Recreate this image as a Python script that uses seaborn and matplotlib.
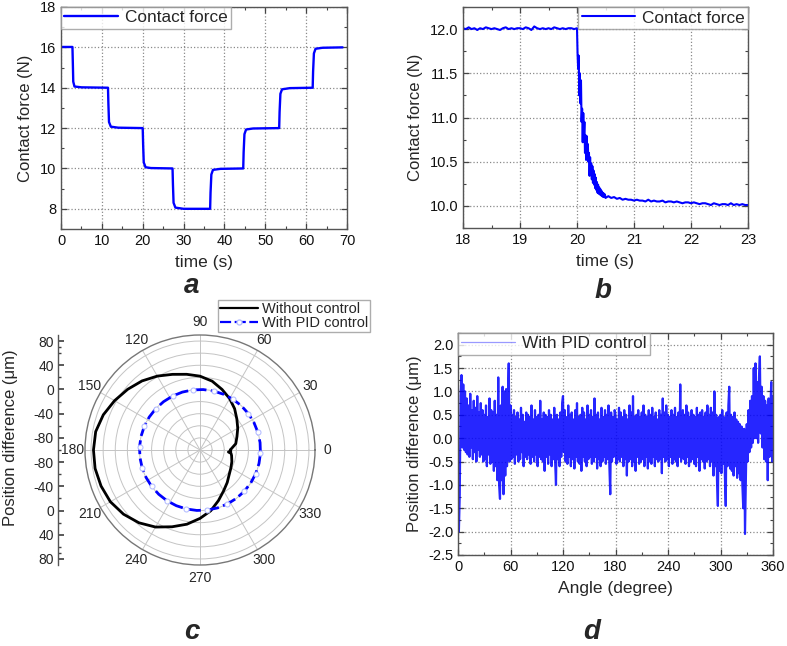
import numpy as np
import matplotlib
matplotlib.use('Agg')
import matplotlib.pyplot as plt
from matplotlib.ticker import MultipleLocator, FormatStrFormatter
from matplotlib.lines import Line2D
import seaborn as sns

# ---- panel a : step response of the contact force
a_time = [0, 2.8, 2.9, 3.0, 3.3, 5.0, 11.5, 11.6, 11.75, 12.2, 14.0,
          20.0, 20.1, 20.25, 20.7, 22.0, 27.3, 27.4, 27.55, 28.0, 30.0,
          36.5, 36.6, 36.8, 37.2, 39.0, 44.6, 44.7, 44.9, 45.3, 47.0,
          53.4, 53.5, 53.7, 54.1, 56.0, 61.6, 61.7, 61.9, 62.3, 64.0, 68.9]
a_force = [16.02, 16.02, 15.2, 14.3, 14.06, 14.02, 14.0, 13.2, 12.3, 12.07, 12.02,
           12.0, 11.2, 10.3, 10.06, 10.02, 10.0, 9.2, 8.3, 8.06, 8.0,
           8.0, 8.8, 9.7, 9.93, 9.98, 10.0, 10.8, 11.7, 11.93, 11.98,
           12.0, 12.8, 13.7, 13.92, 13.98, 14.0, 14.8, 15.7, 15.93, 15.98, 16.0]

# ---- panel b : zoom on the 12 N -> 10 N step (three sampling segments)
b_pre_start, b_pre_step = 18.0, 0.05
b_pre = [12.01, 12.00, 12.02, 12.00, 12.01, 11.99, 12.01, 12.00, 12.02, 12.01,
         12.00, 12.01, 12.00, 11.99, 12.01, 12.02, 12.00, 12.01, 12.00, 12.01,
         12.01, 12.00, 12.02, 12.01, 11.99, 12.03, 12.01, 12.00, 12.01, 12.00,
         12.01, 12.00, 12.02, 12.01, 12.00, 12.01, 12.00, 12.01, 12.01, 12.00, 12.01]
b_tr_start, b_tr_step = 20.01, 0.01
b_tr = [11.72, 11.55, 11.70, 11.25, 11.50, 11.16, 11.42, 10.95, 11.10, 10.72,
        11.05, 10.80, 10.95, 10.60, 10.80, 10.52, 10.79, 10.55, 10.70, 10.50,
        10.60, 10.34, 10.55, 10.36, 10.48, 10.30, 10.45, 10.26, 10.40, 10.24,
        10.36, 10.20, 10.32, 10.18, 10.27, 10.15, 10.24, 10.14, 10.21, 10.13,
        10.19, 10.12, 10.17, 10.11, 10.15, 10.10, 10.14, 10.10, 10.13, 10.09]
b_post_start, b_post_step = 20.55, 0.05
b_post = [10.11, 10.09, 10.10, 10.08, 10.09, 10.07, 10.08, 10.07, 10.07, 10.06,
          10.07, 10.06, 10.06, 10.05, 10.07, 10.05, 10.06, 10.05, 10.05, 10.06,
          10.04, 10.05, 10.05, 10.04, 10.05, 10.04, 10.03, 10.04, 10.04, 10.03,
          10.04, 10.03, 10.02, 10.03, 10.03, 10.02, 10.01, 10.03, 10.02, 10.01,
          10.02, 10.02, 10.01, 10.03, 10.01, 10.02, 10.01, 10.02, 10.01, 10.01]

# ---- panel c : polar position difference
c_angle = [0, 10, 20, 30, 40, 50, 60, 70, 80, 90, 100, 110, 120, 130, 140, 150,
           160, 170, 180, 190, 200, 210, 220, 230, 240, 250, 260, 270, 280, 290,
           300, 310, 320, 330, 340, 350, 354, 356, 358, 360]
c_without = [-50, -40, -35, -28, -20.5, -11, -2, 6.5, 15.5, 22, 27, 33, 41, 49, 56, 63,
             70, 75, 76, 76, 74, 71, 65, 57, 47, 35, 24.5, 13, 2, -11,
             -22, -30, -37, -41, -44, -47, -48.5, -53, -49, -50]
pid_angle = [-3, 7, 17, 27, 37, 47, 57, 67, 77, 87, 97, 107, 117, 127, 137, 147, 157,
             167, 177, 187, 197, 207, 217, 227, 237, 247, 257, 267, 277, 287, 297,
             307, 317, 327, 337, 347, 357]
pid_r = [0.0, 0.0, 0.0, 0.0, 0.0, 0.0, 0.0, 0.0, 0.0, 0.0, 0.0, 0.0, 0.0, 0.0, 0.0,
         0.0, 0.0, 0.0, 0.0, 0.0, 0.0, 0.0, 0.0, 0.0, 0.0, 0.0, 0.0, 0.0, 0.0, 0.0,
         0.0, 0.0, 0.0, 0.0, 0.0, 0.0, 0.0]
radial_ticks = [80, 40, 0, -40, -80]

# ---- panel d : position difference with PID control, one value per degree
d_step = 1.0
d_vals = [
    -0.4, -2.0, -1.2, 0.9, 1.35, -0.2, 1.15, -0.25, 1.0, -0.3,
    0.85, -0.35, 0.7, -0.4, 0.95, -0.2, 0.6, -0.45, 0.8, -0.3,
    0.65, -0.5, 0.9, -0.25, 0.55, -0.4, 0.75, -0.35, 0.6, -0.5,
    0.5, -0.45, 0.7, -0.6, 0.45, -0.35, 0.85, -0.55, 0.6, -0.5,
    0.55, -0.7, 0.8, -0.6, 0.5, -0.9, 1.3, -1.0, -1.3, 0.7,
    -0.9, 1.1, -1.2, 1.0, -0.8, 1.05, -0.6, 0.9, 1.6, -0.5,
    0.7, -0.45, 0.5, -0.4, 0.6, -0.55, 0.45, -0.35, 0.55, -0.5,
    0.4, -0.45, 0.65, -0.3, 0.5, -0.6, 0.35, -0.4, 0.55, -0.45,
    0.5, -0.35, 0.45, -0.55, 0.7, -0.4, 0.4, -0.5, 0.6, -0.35,
    0.45, -0.6, 0.5, -0.4, 0.8, -0.45, 0.4, -0.5, 0.55, -0.7,
    0.5, -0.4, 0.45, -0.55, 0.6, -0.35, 0.5, -0.6, 0.4, -0.45,
    0.65, -0.5, -1.0, 0.5, -0.45, 0.4, -0.6, 0.55, -0.4, 0.75,
    0.9, -0.3, 0.6, -0.5, 0.45, -0.55, 0.7, -0.4, 0.5, -0.6,
    0.55, -0.45, 0.4, -0.65, 0.6, -0.4, 0.75, -0.5, 0.45, -0.55,
    0.5, -0.7, 0.65, -0.4, 0.55, -0.5, 0.4, -0.6, 0.7, -0.45,
    0.5, -0.4, 0.6, -0.55, 0.45, -0.5, 0.85, -0.4, 0.5, -0.65,
    0.55, -0.45, 0.4, -0.6, 0.65, -0.5, 0.45, -0.4, 0.6, -0.55,
    0.5, -0.45, 0.7, -0.6, -1.2, 0.55, -0.5, 0.45, -0.4, 0.6,
    0.5, -0.55, 0.4, -0.45, 0.65, -0.5, 0.55, -0.4, 0.45, -0.6,
    0.6, -0.45, 0.5, -0.8, 0.4, -0.5, 0.7, -0.45, 0.55, -0.6,
    0.9, -0.5, 0.45, -0.7, 0.5, -0.4, 0.6, -0.55, 0.45, -0.5,
    0.55, -0.45, 0.7, -0.6, 0.5, -0.4, 0.45, -0.65, 0.6, -0.5,
    0.5, -0.55, 0.65, -0.4, 0.45, -0.6, 0.55, -0.45, 0.4, -0.5,
    0.6, -0.45, 0.5, -0.75, 0.85, -0.4, 0.55, -0.5, 0.7, -0.45,
    0.5, -0.6, 0.45, -0.4, 0.6, -0.55, 0.5, -0.45, 0.65, -0.5,
    0.45, -0.6, 0.55, -0.4, 1.15, -0.5, 0.05, 0.6, -0.45, 0.5,
    -0.55, 0.7, -0.4, 0.55, -0.6, 0.45, -0.5, 0.6, -0.45, 0.5,
    -0.55, 0.45, -0.6, 0.65, -0.4, 0.5, -0.7, 0.55, -0.45, 0.6,
    -0.5, 0.45, -0.65, 0.55, -0.5, 0.7, -0.45, 0.5, -0.6, 0.65,
    -0.5, 0.55, -0.8, 1.0, -0.6, 0.5, -0.9, -1.45, 0.45, -0.7,
    0.5, -0.75, 0.6, -0.55, 0.45, -0.8, -1.45, 0.55, -0.6, 0.7,
    1.1, -0.65, 0.5, -0.7, 0.45, -0.8, 0.55, -0.6, 0.4, -0.85,
    0.35, -0.75, 0.3, -0.9, 0.25, -1.0, -1.5, 0.2, -2.05, -0.9,
    0.3, -0.5, 0.6, -0.3, 0.8, -0.2, 0.9, -0.1, 1.5, 0.0,
    1.6, 0.0, 1.2, -0.1, 1.3, 1.75, 0.1, 1.1, -0.2, 0.9,
    -0.45, 0.8, -0.5, 0.7, -0.9, 0.85, -0.4, 0.6, 1.2, -0.5,
    0.9]

W, H = 787, 646
BLUE = '#0000ff'

sns.set_theme(style='ticks')
plt.rcParams['font.family'] = ['Liberation Sans', 'DejaVu Sans']
plt.rcParams['axes.linewidth'] = 1.0
plt.rcParams['legend.frameon'] = True

fig = plt.figure(figsize=(W / 100, H / 100), dpi=100)


def box(l, t, r, b):
    # pixel box -> figure fraction
    return [l / W, 1 - b / H, (r - l) / W, (b - t) / H]


def frame(ax, xmaj, xmin, ymaj, ymin, fmt=None):
    ax.xaxis.set_major_locator(MultipleLocator(xmaj))
    ax.xaxis.set_minor_locator(MultipleLocator(xmin))
    ax.yaxis.set_major_locator(MultipleLocator(ymaj))
    ax.yaxis.set_minor_locator(MultipleLocator(ymin))
    if fmt:
        ax.yaxis.set_major_formatter(FormatStrFormatter(fmt))
    ax.tick_params(which='both', direction='in', top=True, right=True,
                   labelsize=10.5, color='#444444', labelcolor='#111111')
    ax.tick_params(which='major', length=4, width=0.9)
    ax.tick_params(which='minor', length=2.5, width=0.8)
    ax.grid(True, which='major', ls=':', lw=0.9, color='#8a8a8a')
    for s in ax.spines.values():
        s.set_color('#555555')
        s.set_linewidth(1.0)


def legend(ax, loc, **kw):
    lg = ax.legend(loc=loc, borderaxespad=0, fontsize=12.4, fancybox=False,
                   handlelength=3.1, borderpad=0.2, handletextpad=0.4, **kw)
    lg.get_frame().set_edgecolor('#999999')
    lg.get_frame().set_linewidth(1.0)
    return lg


# ---------------- a
ax_a = fig.add_axes(box(61, 7, 347, 229))
sns.lineplot(x=a_time, y=a_force, ax=ax_a, color=BLUE, lw=1.7,
             sort=False, estimator=None, label='Contact force')
ax_a.set_xlim(0, 70)
ax_a.set_ylim(7, 18)
frame(ax_a, 10, 5, 2, 1)
ax_a.set_xlabel('time (s)', fontsize=12.5, labelpad=5)
ax_a.set_ylabel('Contact force (N)', fontsize=12, labelpad=5)
legend(ax_a, 'upper left')

# ---------------- b
b_t = ([b_pre_start + i * b_pre_step for i in range(len(b_pre))]
       + [b_tr_start + i * b_tr_step for i in range(len(b_tr))]
       + [b_post_start + i * b_post_step for i in range(len(b_post))])
b_f = b_pre + b_tr + b_post
ax_b = fig.add_axes(box(463, 7, 748, 228))
sns.lineplot(x=b_t, y=b_f, ax=ax_b, color=BLUE, lw=1.5,
             sort=False, estimator=None, label='Contact force')
ax_b.set_xlim(18, 23)
ax_b.set_ylim(9.75, 12.25)
frame(ax_b, 1, 0.5, 0.5, 0.25, '%.1f')
ax_b.set_xlabel('time (s)', fontsize=12.5, labelpad=5)
ax_b.set_ylabel('Contact force (N)', fontsize=12, labelpad=5)
legend(ax_b, 'upper right')

# ---------------- c (polar)
ax_c = fig.add_axes(box(85, 335, 315, 565), projection='polar')
sns.lineplot(x=np.radians(c_angle), y=c_without, ax=ax_c, color='black',
             lw=2.0, sort=False, estimator=None, legend=False)
sns.lineplot(x=np.radians(pid_angle + [pid_angle[0] + 360]), y=pid_r + [pid_r[0]],
             ax=ax_c, color=BLUE, lw=2.0, sort=False, estimator=None, legend=False)
pid_line = ax_c.lines[-1]
pid_line.set_dashes((5, 1.6))
pid_line.set_marker('o')
pid_line.set_markevery((2, 2))
pid_line.set_markersize(3.6)
pid_line.set_markerfacecolor('white')
pid_line.set_markeredgecolor('#b8c0ff')
pid_line.set_markeredgewidth(0.8)
ax_c.set_ylim(-100, 90)
ax_c.set_yticks([-80, -60, -40, -20, 0, 20, 40, 60, 80])
ax_c.set_yticklabels([])
ax_c.set_xticks(np.radians(np.arange(0, 360, 30)))
ax_c.set_xticklabels([str(v) for v in range(0, 360, 30)], fontsize=10)
ax_c.tick_params(axis='x', pad=-4)
ax_c.grid(True, color='#c4c4c4', lw=0.7)
ax_c.spines['polar'].set_color('#777777')
ax_c.spines['polar'].set_linewidth(1.0)
ax_c.set_xlabel('')
ax_c.set_ylabel('')
ax_c.patch.set_alpha(0)

# linear radial scale on the left side of the polar plot
ax_r = fig.add_axes(box(58, 335, 58.5, 565))
ax_r.set_ylim(-190, 190)
pos = [t + 100 for t in radial_ticks] + [-(t + 100) for t in reversed(radial_ticks)]
lab = [str(t) for t in radial_ticks] + [str(t) for t in reversed(radial_ticks)]
ax_r.set_yticks(pos)
ax_r.set_yticklabels(lab, fontsize=10)
ax_r.set_yticks([p - 20 for p in pos[:-1]] + [170, -170], minor=True)
ax_r.set_xticks([])
ax_r.tick_params(axis='y', which='both', direction='in', color='#444444', pad=3)
ax_r.tick_params(axis='y', which='major', length=4)
ax_r.tick_params(axis='y', which='minor', length=2.5)
for k in ('top', 'right', 'bottom'):
    ax_r.spines[k].set_visible(False)
ax_r.spines['left'].set_color('#555555')
ax_r.patch.set_alpha(0)
fig.text(11 / W, 1 - 438 / H, 'Position difference (\u03bcm)', rotation=90,
         ha='center', va='center', fontsize=12)

handles = [Line2D([], [], color='black', lw=1.6),
           Line2D([], [], color=BLUE, lw=1.6, dashes=(5, 1.6), marker='o', markersize=3.6,
                  markerfacecolor='white', markeredgecolor='#b8c0ff')]
lg_c = fig.legend(handles, ['Without control', 'With PID control'], loc='upper left',
                  bbox_to_anchor=(218 / W, 1 - 300 / H), borderaxespad=0, fontsize=10.5,
                  fancybox=False, handlelength=2.6, borderpad=0.12, handletextpad=0.3,
                  labelspacing=0.02)
lg_c.get_frame().set_edgecolor('#999999')

# ---------------- d
d_angle = [i * d_step for i in range(len(d_vals))]
ax_d = fig.add_axes(box(458, 333, 773, 555))
sns.lineplot(x=d_angle, y=d_vals, ax=ax_d, color=BLUE, lw=1.6, alpha=0.85,
             sort=False, estimator=None, legend=False)
ax_d.set_xlim(0, 360)
ax_d.set_ylim(-2.5, 2.25)
frame(ax_d, 60, 30, 0.5, 0.25, '%.1f')
ax_d.set_xlabel('Angle (degree)', fontsize=12.5, labelpad=5)
ax_d.set_ylabel('Position difference (\u03bcm)', fontsize=12, labelpad=4)
legend(ax_d, 'upper left',
       handles=[Line2D([], [], color=BLUE, lw=0.9, alpha=0.4)],
       labels=['With PID control'])

# panel letters (baseline positions)
for x, y, s in [(192, 293, 'a'), (603, 298, 'b'), (192, 639, 'c'), (592, 639, 'd')]:
    fig.text(x / W, 1 - y / H, s, fontsize=20, fontweight='bold', fontstyle='italic',
             ha='center', va='baseline')

fig.savefig('out.png', dpi=100)
